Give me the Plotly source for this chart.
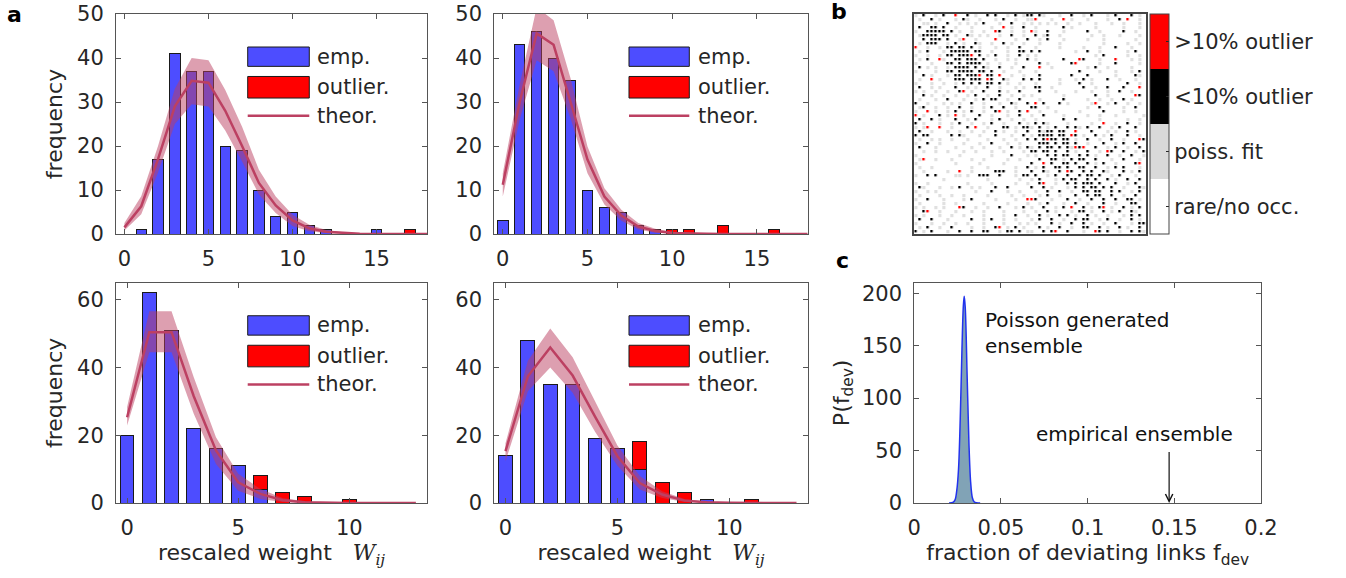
import plotly.graph_objects as go

# ---------------- panel a data ----------------
a1_x = list(range(0, 19))
a1_emp = [0, 1, 17, 41, 37, 37, 20, 19, 10, 4, 5, 2, 1, 0, 0, 1, 0, 0, 0]
a1_out = [0, 0, 0, 0, 0, 0, 0, 0, 0, 0, 0, 0, 0, 0, 0, 0, 0, 1, 0]
a1_theor = [1.5, 6.3, 17, 29, 34.8, 34.4, 28, 20, 11.6, 6.5, 3.1, 1.3, 0.5, 0.2, 0.05, 0, 0, 0, 0]
a1_lo = [0.8, 4.5, 14, 25, 29.5, 29, 23.5, 16.5, 9, 4.8, 1.8, 0.6, 0.2, 0, 0, 0, 0, 0, 0]
a1_hi = [2.5, 8.6, 20, 33, 40, 39.5, 32.7, 24.4, 14.6, 8.5, 4.4, 2.1, 0.9, 0.4, 0.15, 0.05, 0, 0, 0]

a2_x = list(range(0, 19))
a2_emp = [3, 43, 46, 40, 35, 10, 6, 5, 2, 1, 0, 0, 0, 0, 0, 0, 0, 0, 0]
a2_out = [0, 0, 0, 0, 0, 0, 0, 0, 0, 0, 1, 1, 0, 2, 0, 0, 1, 0, 0]
a2_theor = [11.2, 30, 45.6, 43, 30, 16.9, 8.5, 4.2, 1.7, 0.7, 0.25, 0.1, 0.03, 0, 0, 0, 0, 0, 0]
a2_lo = [8.5, 26, 39.5, 37, 26.3, 13.8, 6.7, 3, 1, 0.3, 0.1, 0, 0, 0, 0, 0, 0, 0, 0]
a2_hi = [13.8, 34, 51.5, 48.6, 35.4, 19.9, 10.4, 5.5, 2.5, 1.2, 0.5, 0.2, 0.08, 0, 0, 0, 0, 0, 0]

a3_x = list(range(0, 14))
a3_emp = [20, 62, 51, 22, 16, 11, 4, 0, 0, 0, 0, 0, 0, 0]
a3_out = [0, 0, 0, 0, 0, 0, 4, 3, 2, 0, 1, 0, 0, 0]
a3_theor = [25.3, 50.4, 50.4, 31.5, 15.5, 6.1, 2.7, 0.8, 0.2, 0.05, 0, 0, 0, 0]
a3_lo = [22.9, 44.5, 44.5, 26.3, 11.5, 3.6, 1.2, 0.3, 0, 0, 0, 0, 0, 0]
a3_hi = [28.3, 56.6, 56.6, 37.1, 19.4, 8.6, 4.1, 1.5, 0.5, 0.15, 0.05, 0, 0, 0]

a4_x = list(range(0, 14))
a4_emp = [14, 48, 35, 35, 19, 16, 10, 0, 0, 1, 0, 0, 0, 0]
a4_out = [0, 0, 0, 0, 0, 0, 8, 6, 3, 0, 0, 1, 0, 0]
a4_theor = [15.3, 37.4, 45.9, 37.6, 25.5, 13.8, 5.9, 2.5, 0.7, 0.2, 0.05, 0, 0, 0]
a4_lo = [12.3, 33, 40, 32.5, 21, 11, 4, 1.5, 0.3, 0, 0, 0, 0, 0]
a4_hi = [17.6, 42, 51.5, 43, 30, 17, 8, 3.5, 1.2, 0.4, 0.1, 0, 0, 0]

a_top_xticks = [0, 5, 10, 15]
a_bot_xticks = [0, 5, 10]
a_top_yticks = [0, 10, 20, 30, 40, 50]
a_bot_yticks = [0, 20, 40, 60]
legend_labels = ["emp.", "outlier.", "theor."]

# ---------------- panel b data (link classification matrix) ----------------
# '.' rare/no occ., 'g' poiss. fit, 'k' <10% outlier, 'r' >10% outlier
b_rows = [
    "g.k..g.k..r..k.g..k.k..g.k.gk" + "k.kg...g..k..g.k...g.k...k.g.",
    ".g..k.g...g.kg..g...g.k..g..g" + "gr...g..r.g...g....g..k.r..g.",
    "..gg.g..k..g.g.g.k...g..k..g." + "g.g.g.g..g..g...g...g..g...g.",
    ".k..kk.k..g...g....g..r.g..k." + ".g......k.g.....g......g...g.",
    "g..kkkkk.k.g..g..g..rk..g..g." + "rg..k...g.....k..g.....k..g..",
    ".gkkkk.kk.g..kg.g.g..g..k..g." + ".k.gk..g.......g..g...g....g.",
    "..k.kkk.k..gr..g....r....g..k" + "..g.k...g.....g...g.......g..",
    ".g.kkk..g.k.g..kg..g..k.g..g." + "..g....g..........g.....g..g.",
    "r..g..g.kk.kk.k.g...g..g..k.." + ".g.....g.....g...g...k...g...",
    ".g.k...g.kkkkk.kk..g...g..kk." + "k.k........g..k..g......g.k..",
    "g..g..g.kk.kkkr.k.g.k..g..k.g" + ".g..............g.k.....g..g.",
    ".g.k..rg..kk.kkk.k..g..g.g..k" + ".g......k...rk...g...r...g.g.",
    "g...g...kk.k.kkkk.g..g...g..." + "..k.g.....kr.....g...k.....g.",
    ".k.g.g..g.kkkk.k.kg..k..g..k." + "..r..g........g.k..g.....g...",
    "g....g..kk.kkkk.kk.k..g...g.." + ".g..........k....g...g...g.k.",
    "..k.g...g.kk.kkkr.kk.r..g..g." + "..k.......k...k......g....kg.",
    ".g..r.g...kkk.kkk.rk..kg...k." + "k.k....g...g.k.g...k..g...g..",
    "g...g..g..g.k.k.k.kk.k.g..g.." + ".g.....g....k..g........k..g.",
    ".k..g.g...k..g.g..k..g...g.g." + ".kk..g.......k..g..k...k...r.",
    "g.g..g..g..kr.g..k...k.g..k.." + "..k...g....g...g...g..k..g...",
    "..k.g..g..g..g.k..g..k..g..g." + "g.......g.......k..g......rk.",
    ".g...g..k...g..g.k.kk..g..k.." + "..g.....k.....g..g..g..k.g...",
    "k..g...g.g.g..k..g...g..kg..k" + ".r.k...k.g.....gr..g.k..g..g.",
    ".gk..g..g..k..g..g.k..k..g..." + "kk..g.........g..k.....g..k..",
    "g..r.g..g.k.g.k..g..kr.g..k.r" + "..g...g.....g.....k....g..g..",
    "r.g...k.g.r.g...k..g...g..k.." + "g..k....g.....g..g...g......g",
    ".k..k.g...k..g.k...g.k..g..g." + ".g......k..k.....g......g..g.",
    "k.g...g..g.k..g..g.k..g...k.g" + ".k.kg....g.....g..r..g..k..g.",
    "g.gr..r..g...k.r..g...kk.g.kk" + "g.k.g.k..k.kg.k..k..g.k...k..",
    ".k..g...g..g..g..g..k.g..g..k" + "..kgkk.kk..r...k...g.g..k.g..",
    "k.kk.....k.kg...g...k...g..k." + "g.kkkk.kk.rk.g..k.g.k...k..g.",
    ".g..g.g..g...g....g...g..g..k" + ".k.krkk.kk.g..k..g..k..g...rk",
    "g..k..g.....g...g..k...g..g.." + "..kkk.k.kk.k..g...k..g.k..k..",
    ".k...g....g...g..g...g..k.g.k" + "g.k.kk.k.kgrkr..k..g.k..g..k.",
    "..g..g..g...g..g...g..g....g." + "kk.kk.k..k.g..k..g.rk..k..g.k",
    "g..........g.......g....k...g" + ".g..k.k.kk..k.k.g..k..g..k..g",
    ".gr..g...g....g..g.....g..g.." + "..k..kk.g.k.kk..k...g..k...g.",
    "g.........g.....g.....g......" + "k..r.k..kk.k..k.g.k..g....kr.",
    ".g..g.........g...g......g..k" + ".g.k..kk.k..kk..k..g.k.k...g.",
    "..g.....g..r..g.....kkk..g..." + "k..kg..k.rk..k.k..kg...k.g.k.",
    "g..k.k....gg.g..kkk..k...g.kk" + ".k..g.k..k..k.kk.k..g.k...g..",
    ".......g..........g.......g.." + "g.k...g.k.kk..k.k..k.g..k..k.",
    "g..g.........g.....g.....g..g" + "..kr..g..k.k.kkk.k...k..g.k..",
    ".kg...g..g.k..g.g...k..k....." + "k..k.g...g.k.k.kk.k.k..g...kg",
    "g..g.g.........g...k...g..g.." + ".g..k..k..g..kk.kk..k.k..g.k.",
    ".g....g..g..g.....g.....g..g." + "..g.k..g...k..k.kk..k..g..k..",
    "g..k...g....g.k.....g....g..r" + "rk...g...k..g..k..k..k..kk.g.",
    ".g.....g..g......g.....g....g" + "..g.k...g..k..g...k..g...kk..",
    "g.g..g.g...rk..g..g..k...g.k." + "g..k..g.k.r..k.g.kr.g..k.g.k.",
    "..kr..g...g...g..g....g....g." + ".g..k.g...g.kk.g..k.g.k..kg..",
    "g.g...g..g..g....g....g..k..g" + "..k.g..k.k.g..k.g..g...g.k.k.",
    ".k..k...g.....k..g.k..g..g..." + "g.k..k..g..k.kk..g.k..g..k.g.",
    "g...g..g..g..g...g....g...g.g" + ".g...k.g..k..k.g..g..k...g.kk",
    ".g.k..g..k....g..g..kr.g.k.g." + "..k.g..k..g..kk..k.g..k.g..k.",
    "k.g.k...g..k..k..kk..g.kk.k.g" + "g..k.kr..k...g..rk.k..g..k.kg",
]
b_codes = {".": 0, "g": 1, "k": 2, "r": 3}
b_labels = ["rare/no occ.", "poiss. fit", "<10% outlier", ">10% outlier"]
b_colors = ["#ffffff", "#d9d9d9", "#000000", "#ff0000"]

# ---------------- panel c data ----------------
c_x = [0.020, 0.0222, 0.0235, 0.0245, 0.0255, 0.0265, 0.0275, 0.0283, 0.0288,
       0.0294, 0.0305, 0.0315, 0.0325, 0.0335, 0.0345, 0.036, 0.038]
c_y = [0, 0.5, 3, 12, 32, 80, 147, 188, 197, 186, 120, 58, 20, 5, 1.2, 0.2, 0]
c_emp_value = 0.147
c_xticks = [0, 0.05, 0.1, 0.15, 0.2]
c_xticktext = ["0", "0.05", "0.1", "0.15", "0.2"]
c_yticks = [0, 50, 100, 150, 200]

# ---------------- styling ----------------
W, H = 1346, 578
FONT = "DejaVu Sans"
TXT = "#262626"
AX = "#555555"
BLUE = "#4d4dff"
RED = "#ff0000"
THEOR = "rgb(188,64,98)"
BAND = "rgba(188,64,98,0.5)"


def px_x(a):
    return a / W


def px_y(a):
    return 1 - a / H


def dom_x(a, b):
    return [px_x(a), px_x(b)]


def dom_y(top, bottom):
    return [px_y(bottom), px_y(top)]


fig = go.Figure()

panels = [
    ("x", "y", a1_x, a1_emp, a1_out, a1_theor, a1_lo, a1_hi),
    ("x2", "y2", a2_x, a2_emp, a2_out, a2_theor, a2_lo, a2_hi),
    ("x3", "y3", a3_x, a3_emp, a3_out, a3_theor, a3_lo, a3_hi),
    ("x4", "y4", a4_x, a4_emp, a4_out, a4_theor, a4_lo, a4_hi),
]

for xa, ya, xs, emp, out, th, lo, hi in panels:
    fig.add_trace(go.Bar(x=xs, y=[v if v else None for v in emp], width=0.62,
                         marker=dict(color=BLUE, line=dict(color="#1a1a1a", width=1)),
                         xaxis=xa, yaxis=ya, showlegend=False, name="emp."))
    fig.add_trace(go.Bar(x=xs, y=[v if v else None for v in out], width=0.62,
                         marker=dict(color=RED, line=dict(color="#1a1a1a", width=1)),
                         xaxis=xa, yaxis=ya, showlegend=False, name="outlier."))
    fig.add_trace(go.Scatter(x=xs, y=hi, mode="lines", line=dict(width=0, color=BAND),
                             xaxis=xa, yaxis=ya, showlegend=False, hoverinfo="skip"))
    fig.add_trace(go.Scatter(x=xs, y=lo, mode="lines", line=dict(width=0, color=BAND),
                             fill="tonexty", fillcolor=BAND,
                             xaxis=xa, yaxis=ya, showlegend=False, hoverinfo="skip"))
    fig.add_trace(go.Scatter(x=xs, y=th, mode="lines", line=dict(width=2.5, color=THEOR),
                             xaxis=xa, yaxis=ya, showlegend=False, name="theor."))

# panel b: gray "poiss. fit" layer, then black/red outlier layer on top
b_z = [[b_codes[ch] for ch in row.ljust(58, ".")[:58]] for row in b_rows]
b_gray = [[1 if v == 1 else None for v in row] for row in b_z]
b_dark = [[v if v >= 2 else None for v in row] for row in b_z]


def steps(cols):
    out = []
    for i, col in enumerate(cols):
        out.append([i / 4, col])
        out.append([(i + 1) / 4, col])
    return out


fig.add_trace(go.Heatmap(
    z=b_gray, zmin=-0.5, zmax=3.5, colorscale=steps(["#ffffff", "#e0e0e0", "#1a1a1a", "#ff2020"]),
    xgap=0.8, ygap=0.8, xaxis="x5", yaxis="y5", hoverinfo="skip", showscale=False,
))
fig.add_trace(go.Heatmap(
    z=b_dark, zmin=-0.5, zmax=3.5, colorscale=steps(b_colors),
    xgap=1.6, ygap=1.6, xaxis="x5", yaxis="y5", hoverinfo="skip",
    colorbar=dict(
        x=px_x(1149.5), xanchor="left", xref="paper", xpad=0,
        y=px_y(124), yanchor="middle", yref="paper", ypad=0,
        len=220, lenmode="pixels", thickness=19, thicknessmode="pixels",
        outlinecolor="#444444", outlinewidth=1,
        tickvals=[0, 1, 2, 3], ticktext=b_labels,
        ticks="inside", ticklen=3, tickcolor="#262626",
        tickfont=dict(family=FONT, size=21, color=TXT),
    ),
))

# panel c
fig.add_trace(go.Scatter(x=c_x, y=c_y, mode="lines", line=dict(color="#2233ee", width=1.5, shape="spline"),
                         fill="tozeroy", fillcolor="rgba(122,158,178,0.95)",
                         xaxis="x6", yaxis="y6", showlegend=False))

common = dict(showline=True, linecolor=AX, linewidth=1, mirror="ticks", ticks="inside",
              ticklen=5, tickcolor=AX, showgrid=False, zeroline=False, automargin=False,
              tickfont=dict(family=FONT, size=21, color=TXT))
title_font = dict(family=FONT, size=22, color=TXT)

lay = dict(
    width=W, height=H, margin=dict(l=0, r=0, t=0, b=0, autoexpand=False),
    paper_bgcolor="white", plot_bgcolor="white", barmode="stack",
    font=dict(family=FONT, size=21, color=TXT), showlegend=False,
)

top_y = dom_y(14, 234)
bot_y = dom_y(282.7, 503)
lay["xaxis"] = dict(common, domain=dom_x(116, 427), range=[-0.5, 18], tickvals=a_top_xticks, anchor="y", ticklabelstandoff=6)
lay["yaxis"] = dict(common, domain=top_y, range=[0, 50], tickvals=a_top_yticks, anchor="x", ticklabelstandoff=7,
                    title=dict(text="frequency", font=title_font, standoff=8))
lay["xaxis2"] = dict(common, domain=dom_x(494.3, 807.7), range=[-0.5, 18], tickvals=a_top_xticks, anchor="y2", ticklabelstandoff=6)
lay["yaxis2"] = dict(common, domain=top_y, range=[0, 50], tickvals=a_top_yticks, anchor="x2", ticklabelstandoff=7)
wtitle = 'rescaled weight   <span style="font-family:DejaVu Serif"><i>W</i><sub><i>ij</i></sub></span>'
lay["xaxis3"] = dict(common, domain=dom_x(116, 427), range=[-0.5, 13.5], tickvals=a_bot_xticks, anchor="y3", ticklabelstandoff=6,
                     title=dict(text=wtitle, font=title_font, standoff=3))
lay["yaxis3"] = dict(common, domain=bot_y, range=[0, 65], tickvals=a_bot_yticks, anchor="x3", ticklabelstandoff=7,
                     title=dict(text="frequency", font=title_font, standoff=8))
lay["xaxis4"] = dict(common, domain=dom_x(494.3, 807.7), range=[-0.5, 13.5], tickvals=a_bot_xticks, anchor="y4", ticklabelstandoff=6,
                     title=dict(text=wtitle, font=title_font, standoff=3))
lay["yaxis4"] = dict(common, domain=bot_y, range=[0, 65], tickvals=a_bot_yticks, anchor="x4", ticklabelstandoff=7)
lay["xaxis5"] = dict(domain=dom_x(914.3, 1146), range=[-0.5, 57.5], anchor="y5", showline=True, mirror=True,
                     linecolor="#444444", linewidth=1.5, showticklabels=False, ticks="", showgrid=False,
                     zeroline=False, automargin=False)
lay["yaxis5"] = dict(domain=top_y, range=[54.5, -0.5], anchor="x5", showline=True, mirror=True,
                     linecolor="#444444", linewidth=1.5, showticklabels=False, ticks="", showgrid=False,
                     zeroline=False, automargin=False)
lay["xaxis6"] = dict(common, domain=dom_x(914.3, 1261), range=[0, 0.2], tickvals=c_xticks, ticktext=c_xticktext,
                     anchor="y6", ticklabelstandoff=6,
                     title=dict(text="fraction of deviating links f<sub>dev</sub>", font=title_font, standoff=4))
lay["yaxis6"] = dict(common, domain=bot_y, range=[0, 210], tickvals=c_yticks, anchor="x6", ticklabelstandoff=7,
                     title=dict(text="P(f<sub>dev</sub>)", font=title_font, standoff=6))
fig.update_layout(**lay)

# legends inside each histogram panel
shapes = []
annos = []
leg_geo = {"x": (0.4235, 0.6215, 0.64), "x2": (0.4298, 0.6222, 0.6437),
           "x3": (0.4235, 0.6215, 0.64), "x4": (0.4298, 0.6222, 0.6437)}
for xa, ya, *_ in panels:
    x0, x1, xt = leg_geo[xa]
    xr = xa + " domain"
    yr = ya + " domain"
    shapes.append(dict(type="rect", xref=xr, yref=yr, x0=x0, x1=x1, y0=0.762, y1=0.850,
                       fillcolor=BLUE, line=dict(color="#1a1a1a", width=1)))
    shapes.append(dict(type="rect", xref=xr, yref=yr, x0=x0, x1=x1, y0=0.618, y1=0.716,
                       fillcolor=RED, line=dict(color="#1a1a1a", width=1)))
    shapes.append(dict(type="line", xref=xr, yref=yr, x0=x0, x1=x1, y0=0.538, y1=0.538,
                       line=dict(color=THEOR, width=2.5)))
    for lab, yy in zip(legend_labels, [0.806, 0.667, 0.538]):
        annos.append(dict(text=lab, xref=xr, yref=yr, x=xt, y=yy, xanchor="left", yanchor="middle",
                          showarrow=False, font=dict(family=FONT, size=21, color=TXT)))

# panel c annotations
annos.append(dict(text="Poisson generated<br>ensemble", xref="x6", yref="y6", x=0.0398, y=162,
                  xanchor="left", yanchor="middle", align="left", showarrow=False,
                  font=dict(family=FONT, size=20, color="#111111")))
annos.append(dict(text="empirical ensemble", xref="x6", yref="y6", x=0.069, y=66,
                  xanchor="left", yanchor="middle", showarrow=False,
                  font=dict(family=FONT, size=20, color="#111111")))
annos.append(dict(text="", xref="x6", yref="y6", x=c_emp_value, y=0, axref="x6", ayref="y6",
                  ax=c_emp_value, ay=50, showarrow=True, arrowhead=5, arrowsize=1.2, arrowwidth=1.2,
                  arrowcolor="#111111"))

# panel letters
for lab, px, py in [("a", 14, 14), ("b", 839, 12), ("c", 842, 260)]:
    annos.append(dict(text="<b>%s</b>" % lab, xref="paper", yref="paper", x=px_x(px), y=px_y(py),
                      xanchor="center", yanchor="middle", showarrow=False,
                      font=dict(family=FONT, size=22, color="#000000")))

fig.update_layout(shapes=shapes, annotations=annos)
fig.write_html("out.html", config={"displayModeBar": False},
               post_script="document.body.style.margin='0px';document.body.style.overflow='hidden';")
